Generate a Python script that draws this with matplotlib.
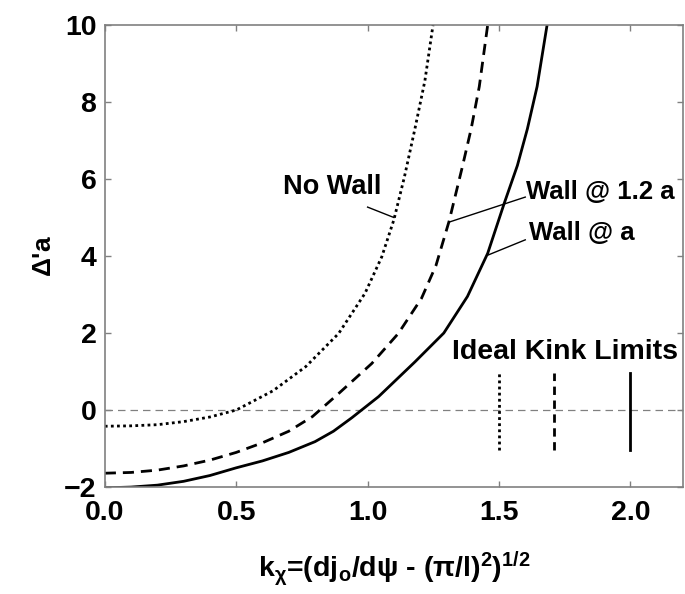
import numpy as np
from matplotlib import pyplot as plt

plt.rcParams['font.family'] = ['Liberation Sans', 'DejaVu Sans']
plt.rcParams['font.weight'] = 'bold'
plt.rcParams['mathtext.fontset'] = 'custom'
plt.rcParams['mathtext.rm'] = 'Liberation Sans:bold'
plt.rcParams['mathtext.it'] = 'Liberation Sans:bold'
plt.rcParams['mathtext.bf'] = 'Liberation Sans:bold'

# No Wall (dotted)
x_nw = [0.0, 0.1, 0.2, 0.3, 0.4, 0.5, 0.64, 0.765, 0.89, 0.99, 1.054, 1.10, 1.14, 1.18, 1.218, 1.249]
y_nw = [-0.42, -0.41, -0.38, -0.3, -0.18, 0.0, 0.5, 1.13, 1.99, 3.03, 3.98, 4.94, 6.05, 7.3, 8.55, 10.0]
# Wall @ 1.2 a (dashed)
x_w12 = [0.0, 0.1, 0.2, 0.3, 0.4, 0.5, 0.6, 0.7, 0.79, 0.89, 1.016, 1.117, 1.205, 1.26, 1.31, 1.36, 1.394, 1.425, 1.457]
y_w12 = [-1.64, -1.62, -1.56, -1.45, -1.3, -1.1, -0.85, -0.55, -0.17, 0.43, 1.21, 1.99, 2.9, 3.75, 4.9, 6.3, 7.3, 8.40, 10.0]
# Wall @ a (solid)
x_wa = [0.0, 0.1, 0.2, 0.3, 0.4, 0.5, 0.6, 0.7, 0.8, 0.87, 0.94, 1.042, 1.18, 1.29, 1.38, 1.457, 1.52, 1.57, 1.608, 1.645, 1.683]
y_wa = [-2.02, -2.0, -1.95, -1.85, -1.7, -1.5, -1.32, -1.1, -0.82, -0.55, -0.2, 0.35, 1.25, 2.0, 2.95, 4.07, 5.37, 6.35, 7.3, 8.40, 10.0]

# ideal kink limits
kink_x = [1.5, 1.71, 2.0]
kink_styles = [(0, (1, 1.2)), (0, (3, 2)), '-']

xticks = [0.0, 0.5, 1.0, 1.5, 2.0]
yticks = [-2, 0, 2, 4, 6, 8, 10]

fig = plt.figure(figsize=(6.85, 5.94), dpi=100)
ax = fig.add_axes([0.153, 0.180, 0.844, 0.778])

ax.axhline(0, color='gray', lw=0.9, ls=(0, (6, 4)))
ax.plot(x_nw, y_nw, color='black', lw=2, ls=(0, (1, 1.2)))
ax.plot(x_w12, y_w12, color='black', lw=2, ls=(0, (4, 2.5)))
ax.plot(x_wa, y_wa, color='black', lw=2)

for kx, ls in zip(kink_x, kink_styles):
    ax.plot([kx, kx], [-1.05, 0.95], color='black', lw=2, ls=ls)

ax.text(1.75, 1.5, 'Ideal Kink Limits', ha='center', va='center', fontsize=20.5, fontweight='bold')

# labels with pointer lines
ax.text(0.865, 5.8, 'No Wall', ha='center', va='center', fontsize=19.5, fontweight='bold')
ax.plot([1.0, 1.10], [5.27, 5.0], color='black', lw=1)
ax.text(1.602, 5.66, 'Wall @ 1.2 a', ha='left', va='center', fontsize=18.5, fontweight='bold')
ax.plot([1.60, 1.31], [5.53, 4.88], color='black', lw=1)
ax.text(1.615, 4.6, 'Wall @ a', ha='left', va='center', fontsize=18.5, fontweight='bold')
ax.plot([1.60, 1.46], [4.42, 4.03], color='black', lw=1)

ax.set_xlim(0, 2.2)
ax.set_ylim(-2, 10)
ax.set_xticks(xticks)
ax.set_xticklabels(['%.1f' % v for v in xticks])
ax.set_yticks(yticks)
ax.tick_params(direction='in', length=4, width=1, color='gray', labelsize=20.5,
               top=True, right=True)
ax.tick_params(axis='x', pad=9)
ax.tick_params(axis='y', pad=6)
for s in ax.spines.values():
    s.set_color('gray')
    s.set_linewidth(1.2)
for lab in ax.get_xticklabels() + ax.get_yticklabels():
    lab.set_fontweight('bold')

ax.set_xlabel(r'k$_\chi$=(dj$_o$/d$\psi$ - ($\pi$/l)$^2$)$^{1/2}$', fontsize=20.5, fontweight='bold', labelpad=17)
ax.set_ylabel(r"$\Delta$'a", fontsize=19, fontweight='bold', labelpad=6)

plt.savefig('out.png', dpi=100)
